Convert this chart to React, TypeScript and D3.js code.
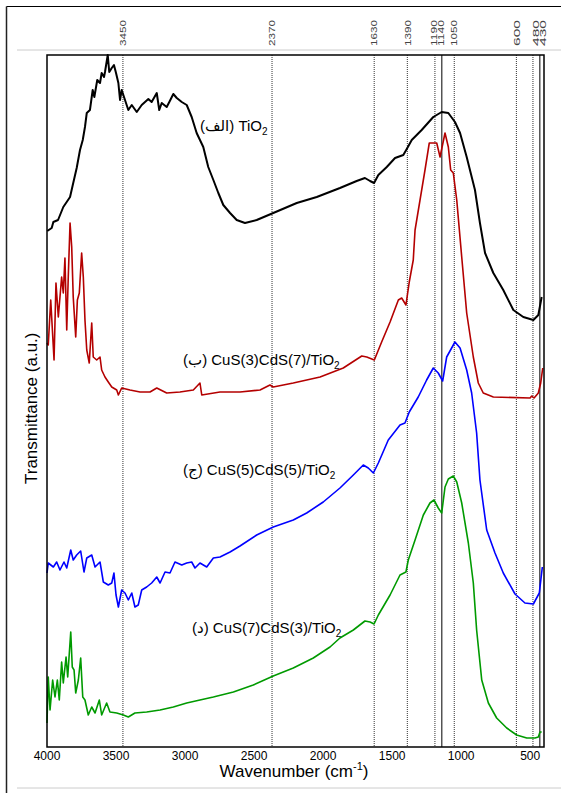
import React from "react";
import * as d3 from "d3";

// FTIR spectra, wavenumber (cm-1) vs transmittance (a.u., curves offset)
const tio2: [number, number][] = [
  [3998, 51.6], [3966, 51.9], [3954, 52.5], [3920, 52.7], [3882, 54.0], [3833, 55.0],
  [3810, 56.4], [3785, 57.9], [3761, 59.7], [3741, 60.7], [3725, 62.0], [3712, 63.4],
  [3689, 63.7], [3669, 65.7], [3657, 65.0], [3636, 66.7], [3616, 66.4], [3604, 67.4],
  [3587, 67.0], [3580, 67.5], [3560, 69.2], [3549, 67.5], [3531, 67.9], [3515, 68.2],
  [3500, 67.4], [3483, 66.4], [3471, 64.7], [3459, 65.7], [3435, 64.7], [3411, 63.7],
  [3386, 64.2], [3350, 63.5], [3314, 64.2], [3266, 64.8], [3242, 64.5], [3205, 65.4],
  [3187, 63.7], [3169, 64.4], [3133, 64.0], [3114, 64.5], [3085, 65.3], [3060, 64.9],
  [3024, 64.5], [2988, 64.2], [2952, 63.0], [2916, 61.4], [2868, 60.0], [2832, 58.0],
  [2795, 56.7], [2759, 55.4], [2723, 54.2], [2674, 53.4], [2626, 52.7], [2566, 52.4],
  [2481, 52.7], [2361, 53.4], [2191, 54.4], [2046, 55.0], [1878, 55.9], [1757, 56.6],
  [1697, 56.9], [1660, 56.6], [1631, 56.4], [1600, 57.2], [1539, 58.0], [1479, 58.9],
  [1419, 59.2], [1390, 59.9], [1358, 60.7], [1286, 61.7], [1202, 63.0], [1141, 63.5],
  [1093, 63.4], [1045, 62.5], [1008, 61.4], [960, 59.0], [900, 55.7], [864, 52.4],
  [827, 49.4], [767, 47.4], [695, 45.7], [622, 43.7], [550, 43.0], [477, 42.7],
  [441, 43.2], [417, 45.0],
];

const cus3cds7: [number, number][] = [
  [4000, 40.4], [3991, 40.2], [3973, 44.7], [3949, 38.7], [3935, 46.4], [3918, 43.0],
  [3894, 47.0], [3882, 45.4], [3870, 48.9], [3857, 41.7], [3846, 47.0], [3833, 52.4],
  [3821, 50.0], [3810, 45.0], [3792, 41.0], [3780, 44.7], [3766, 45.4], [3749, 49.4],
  [3737, 47.0], [3725, 42.7], [3712, 39.7], [3694, 38.4], [3676, 42.4], [3665, 39.0],
  [3640, 38.7], [3616, 39.0], [3604, 37.7], [3580, 37.0], [3556, 36.5], [3531, 36.0],
  [3495, 35.7], [3483, 35.2], [3459, 35.9], [3399, 35.7], [3326, 35.5], [3254, 35.5],
  [3205, 35.9], [3133, 35.4], [3037, 35.5], [2940, 35.7], [2892, 36.4], [2879, 35.2],
  [2747, 35.5], [2602, 35.5], [2457, 35.7], [2385, 36.2], [2361, 36.0], [2216, 36.4],
  [2022, 37.0], [1854, 37.9], [1720, 39.1], [1684, 39.0], [1629, 38.7], [1576, 40.5],
  [1515, 42.5], [1455, 44.7], [1431, 44.9], [1400, 44.2], [1376, 46.5], [1347, 48.7],
  [1334, 51.7], [1298, 54.7], [1262, 57.7], [1231, 60.4], [1177, 60.4], [1153, 59.0],
  [1117, 61.4], [1093, 60.0], [1076, 57.7], [1057, 57.4], [1032, 54.7], [996, 49.0],
  [960, 43.4], [912, 39.0], [876, 36.4], [840, 35.4], [767, 35.0], [501, 34.9],
  [489, 35.1], [472, 34.9], [441, 35.4], [424, 36.4], [409, 37.9],
];

const cus5cds5: [number, number][] = [
  [4000, 17.4], [3991, 18.4], [3954, 18.0], [3930, 18.5], [3906, 17.7], [3877, 18.5],
  [3857, 17.9], [3828, 19.7], [3810, 18.7], [3785, 19.2], [3756, 19.6], [3732, 17.5],
  [3712, 18.9], [3676, 19.2], [3652, 18.0], [3616, 18.5], [3592, 16.5], [3556, 16.2],
  [3531, 16.4], [3515, 17.4], [3500, 15.2], [3483, 14.0], [3459, 15.7], [3435, 15.4],
  [3411, 14.7], [3386, 15.4], [3363, 14.0], [3339, 14.2], [3314, 15.7], [3278, 16.0],
  [3242, 16.4], [3205, 17.0], [3181, 16.4], [3145, 17.5], [3109, 17.4], [3073, 18.5],
  [3024, 18.2], [2988, 18.4], [2952, 18.5], [2928, 17.9], [2892, 18.4], [2843, 18.0],
  [2795, 18.9], [2747, 19.0], [2674, 19.5], [2602, 20.1], [2481, 21.2], [2361, 22.0],
  [2216, 22.7], [2119, 23.4], [1999, 24.5], [1878, 25.9], [1781, 27.2], [1709, 28.2],
  [1673, 27.9], [1636, 27.4], [1600, 28.4], [1528, 30.7], [1443, 32.2], [1407, 32.4],
  [1376, 33.5], [1311, 35.0], [1250, 36.7], [1202, 37.9], [1166, 37.4], [1134, 36.6],
  [1105, 39.0], [1045, 40.5], [1008, 39.9], [960, 37.7], [924, 35.4], [888, 31.4],
  [864, 26.7], [815, 21.7], [755, 19.4], [695, 17.4], [610, 15.3], [538, 14.4],
  [477, 14.3], [434, 15.4], [412, 18.0],
];

const cus7cds3: [number, number][] = [
  [4000, 2.4], [3991, 7.0], [3978, 3.7], [3959, 6.7], [3942, 5.0], [3925, 6.7],
  [3911, 4.7], [3894, 8.5], [3882, 6.4], [3862, 9.0], [3850, 7.0], [3828, 11.5],
  [3817, 8.0], [3804, 7.7], [3792, 5.4], [3773, 6.7], [3756, 8.9], [3741, 5.0],
  [3725, 4.7], [3701, 3.2], [3676, 4.0], [3652, 3.4], [3621, 4.7], [3604, 3.2],
  [3568, 4.4], [3544, 3.5], [3495, 3.4], [3447, 3.2], [3411, 3.0], [3363, 3.4],
  [3278, 3.5], [3181, 3.7], [3085, 4.0], [2988, 4.4], [2892, 4.7], [2795, 5.0],
  [2650, 5.5], [2506, 6.2], [2361, 7.1], [2216, 7.9], [2071, 8.9], [1950, 10.0],
  [1878, 10.9], [1781, 11.7], [1697, 12.6], [1660, 12.5], [1631, 12.3], [1600, 13.2],
  [1515, 15.2], [1443, 17.2], [1400, 17.5], [1383, 18.7], [1334, 20.7], [1274, 23.2],
  [1226, 24.4], [1197, 24.7], [1166, 23.9], [1141, 23.4], [1117, 26.0], [1093, 26.8],
  [1057, 27.1], [1032, 26.5], [996, 24.4], [948, 20.4], [912, 16.4], [888, 11.7],
  [851, 6.7], [803, 4.4], [743, 2.9], [670, 1.9], [598, 1.2], [525, 0.9],
  [465, 0.9], [441, 1.0], [429, 1.5], [417, 1.5],
];

const peaks = [3450, 2370, 1630, 1390, 1190, 1140, 1050, 600, 480, 430];
const solidPeaks = [1140, 430];
const xTicks = [4000, 3500, 3000, 2500, 2000, 1500, 1000, 500];

// small sideways nudges so crowded peak labels don't collide
const peakNudge: Record<number, number> = { 1190: -1.5, 1140: -1, 480: 2.5, 430: 2.5 };

const series = [
  { name: "(الف) TiO", data: tio2, color: "#000000", width: 2, lx: 200, ly: 131 },
  { name: "(ب) CuS(3)CdS(7)/TiO", data: cus3cds7, color: "#b40000", width: 1.6, lx: 183, ly: 365 },
  { name: "(ج) CuS(5)CdS(5)/TiO", data: cus5cds5, color: "#0000ff", width: 1.6, lx: 183, ly: 475 },
  { name: "(د) CuS(7)CdS(3)/TiO", data: cus7cds3, color: "#009a00", width: 1.6, lx: 192, ly: 633 },
];

const font = "'Liberation Sans', Arial, 'DejaVu Sans', sans-serif";

export default function App() {
  const width = 561;
  const height = 793;
  const left = 47, right = 544, top = 55, bottom = 747;

  const x = d3.scaleLinear().domain([4000, 400]).range([left, right]);
  const y = d3.scaleLinear().domain([0, 69.2]).range([bottom, top]);

  const line = d3
    .line<[number, number]>()
    .x((d) => x(d[0]))
    .y((d) => y(d[1]));

  return (
    <svg
      width={width}
      height={height}
      style={{ position: "absolute", left: 0, top: 0, background: "#fff" }}
      fontFamily={font}
    >
      {/* page frame */}
      <line x1={6.5} y1={6.5} x2={width} y2={6.5} stroke="#000" strokeWidth={1.2} />
      <line x1={6.5} y1={6.5} x2={6.5} y2={height} stroke="#222" strokeWidth={1.5} />
      <line x1={17} y1={50} x2={width} y2={50} stroke="#ccc" strokeWidth={1} />
      <line x1={17} y1={788} x2={width} y2={788} stroke="#ccc" strokeWidth={1} />

      {/* peak marker lines */}
      {peaks.map((p) => {
        const solid = solidPeaks.includes(p);
        return (
          <g key={p}>
            <line
              x1={x(p)}
              x2={x(p)}
              y1={top}
              y2={bottom}
              stroke={solid ? "#000" : "#333"}
              strokeWidth={1}
              strokeDasharray={solid ? undefined : "1 1"}
            />
            <text
              transform={`translate(${x(p) + 3.2 + (peakNudge[p] || 0)},46) rotate(-90)`}
              fontSize={9.5}
              textLength={26}
              lengthAdjust="spacingAndGlyphs"
              fill="#444"
            >
              {p}
            </text>
          </g>
        );
      })}

      {/* curves */}
      {series.map((s) => (
        <path
          key={s.name}
          d={line(s.data) || ""}
          fill="none"
          stroke={s.color}
          strokeWidth={s.width}
          strokeLinejoin="round"
        />
      ))}

      {/* curve labels */}
      {series.map((s) => (
        <text key={s.name + "l"} x={s.lx} y={s.ly} fontSize={15} fill="#000">
          {s.name}
          <tspan fontSize={10} dy={4}>2</tspan>
        </text>
      ))}

      {/* plot box */}
      <rect
        x={left}
        y={top}
        width={right - left}
        height={bottom - top}
        fill="none"
        stroke="#000"
        strokeWidth={1.5}
      />

      {/* x tick labels */}
      {xTicks.map((t) => (
        <text key={t} x={x(t)} y={760} textAnchor="middle" fontSize={12}>
          {t}
        </text>
      ))}

      <text x={294} y={777} textAnchor="middle" fontSize={17}>
        Wavenumber (cm
        <tspan fontSize={11} dy={-7}>-1</tspan>
        <tspan dy={7}>)</tspan>
      </text>

      <text transform="translate(37,484) rotate(-90)" fontSize={17}>
        Transmittance (a.u.)
      </text>
    </svg>
  );
}
